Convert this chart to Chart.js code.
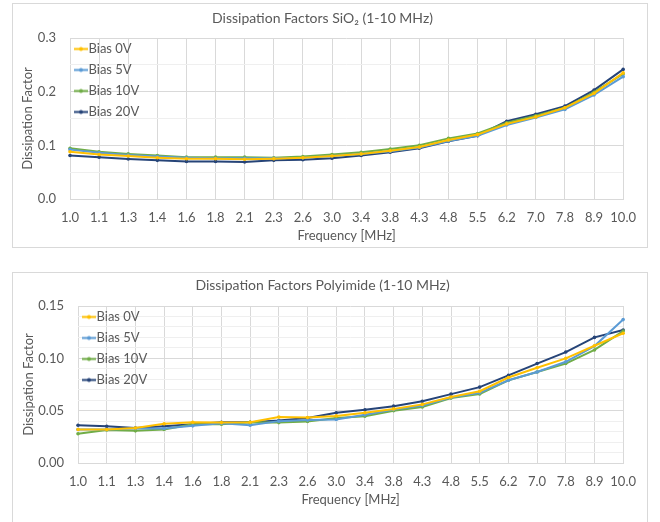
<!DOCTYPE html>
<html>
<head>
<meta charset="utf-8">
<script src="https://cdn.jsdelivr.net/npm/chart.js@4"></script>
<style>
  body { margin: 0; background: #fff; width: 660px; height: 522px; overflow: hidden; position: relative; }
  .box { position: absolute; left: 12px; width: 634px; border: 1px solid #d9d9d9; background: #fff; }
  .box canvas { display: block; }
</style>
</head>
<body>
<div class="box" style="top:3px;height:243px;"><div style="width:634px;height:243px;"><canvas id="sio2Chart"></canvas></div></div>
<div class="box" style="top:272px;height:260px;"><div style="width:634px;height:238px;"><canvas id="polyimideChart"></canvas></div></div>
<script>
// 周波数 (MHz)
const frequencies = ['1.0','1.1','1.3','1.4','1.6','1.8','2.1','2.3','2.6','3.0','3.4','3.8','4.3','4.8','5.5','6.2','7.0','7.8','8.9','10.0'];
const seriesNames = ['Bias 0V', 'Bias 5V', 'Bias 10V', 'Bias 20V'];

// SiO2
const sio2Bias0V  = [0.088,0.083,0.080,0.077,0.075,0.075,0.074,0.075,0.077,0.080,0.084,0.090,0.097,0.110,0.120,0.140,0.153,0.170,0.197,0.235];
const sio2Bias5V  = [0.092,0.086,0.082,0.079,0.077,0.076,0.076,0.076,0.077,0.080,0.084,0.089,0.096,0.108,0.118,0.138,0.152,0.167,0.194,0.228];
const sio2Bias10V = [0.0945,0.088,0.084,0.081,0.078,0.078,0.078,0.077,0.079,0.083,0.087,0.093,0.100,0.113,0.122,0.142,0.155,0.170,0.199,0.233];
const sio2Bias20V = [0.081,0.078,0.0745,0.072,0.070,0.070,0.069,0.072,0.073,0.076,0.081,0.087,0.0945,0.1075,0.118,0.145,0.158,0.173,0.203,0.2415];

// Polyimide
const polyBias0V  = [0.032,0.032,0.0335,0.0374,0.039,0.0386,0.039,0.044,0.0434,0.045,0.048,0.0517,0.056,0.063,0.0686,0.0817,0.091,0.100,0.112,0.124];
const polyBias5V  = [0.032,0.032,0.033,0.033,0.0355,0.038,0.036,0.040,0.041,0.0415,0.046,0.051,0.055,0.0626,0.067,0.079,0.087,0.0967,0.1117,0.137];
const polyBias10V = [0.028,0.0316,0.0307,0.032,0.037,0.037,0.039,0.0386,0.0396,0.043,0.0447,0.050,0.0536,0.062,0.066,0.079,0.087,0.095,0.108,0.126];
const polyBias20V = [0.036,0.035,0.0335,0.035,0.037,0.039,0.039,0.0405,0.043,0.048,0.0508,0.0543,0.059,0.0658,0.0725,0.0837,0.095,0.106,0.120,0.127];

const seriesColors = ['#FFC000', '#5B9BD5', '#70AD47', '#264478'];
const textColor = '#595959';
const fontFamily = 'Lato, "Open Sans", sans-serif';

Chart.defaults.font.family = fontFamily;
Chart.defaults.color = textColor;

// 凡例アイコン (線 + マーカー)
function legendIcon(color) {
    const c = document.createElement('canvas');
    c.width = 14;
    c.height = 7;
    const g = c.getContext('2d');
    g.strokeStyle = color;
    g.lineWidth = 2;
    g.beginPath();
    g.moveTo(0, 3.5);
    g.lineTo(14, 3.5);
    g.stroke();
    g.fillStyle = color;
    g.beginPath();
    g.arc(7, 3.5, 2, 0, Math.PI * 2);
    g.fill();
    return c;
}

// 凡例をプロット領域の左上に置く
const legendInside = {
    id: 'legendInside',
    afterLayout: function (chart) {
        const lg = chart.legend;
        const area = chart.chartArea;
        lg.left = area.left + 2;
        lg.right = lg.left + lg.width;
        lg.top = area.top - 3.5;
        lg.bottom = lg.top + lg.height;
    }
};

function makeDatasets(seriesValues) {
    return seriesValues.map(function (values, i) {
        return {
            label: seriesNames[i],
            data: values,
            borderColor: seriesColors[i],
            backgroundColor: seriesColors[i],
            borderWidth: 2,
            pointRadius: 1.8,
            pointHoverRadius: 2,
            pointBorderWidth: 0,
            tension: 0
        };
    });
}

function makeOptions(opt) {
    return {
        responsive: true,
        maintainAspectRatio: false,
        animation: false,
        layout: { padding: { left: 0, right: 15, top: 0, bottom: 0 } },
        scales: {
            x: {
                offset: false,
                grid: { color: '#d9d9d9', drawTicks: false },
                border: { color: '#d9d9d9' },
                ticks: { padding: 11, maxRotation: 0, autoSkip: false, font: { size: 13 } },
                title: { display: true, text: 'Frequency [MHz]', font: { size: 13 }, padding: { top: 0, bottom: 3 } },
                afterFit: function (scale) { scale.height = 48; }
            },
            y: {
                min: 0,
                max: opt.max,
                grid: {
                    drawTicks: false,
                    color: function (ctx) {
                        return opt.isMajor(ctx.tick.value) ? '#d9d9d9' : '#efefef';
                    }
                },
                border: { display: false },
                ticks: {
                    stepSize: opt.step,
                    autoSkip: false,
                    padding: 14,
                    font: { size: 13 },
                    callback: function (value) {
                        return opt.isMajor(value) ? value.toFixed(opt.digits) : '';
                    }
                },
                title: { display: true, text: 'Dissipation Factor', font: { size: 13 }, padding: { top: opt.yTitlePad, bottom: 0 } },
                afterFit: function (scale) { scale.width = opt.yWidth; }
            }
        },
        plugins: {
            title: {
                display: true,
                text: opt.title,
                color: textColor,
                font: { size: 14, weight: 'normal' },
                padding: opt.titlePad
            },
            legend: {
                position: 'chartArea',
                align: 'start',
                labels: {
                    usePointStyle: true,
                    pointStyleWidth: 2,
                    padding: 8,
                    color: textColor,
                    font: { size: 13 },
                    generateLabels: function (chart) {
                        const items = Chart.defaults.plugins.legend.labels.generateLabels(chart);
                        items.forEach(function (item, i) {
                            item.pointStyle = legendIcon(seriesColors[i]);
                        });
                        return items;
                    }
                }
            },
            tooltip: { enabled: false }
        }
    };
}

// SiO2 グラフ
const ctxSio2 = document.getElementById('sio2Chart').getContext('2d');
new Chart(ctxSio2, {
    type: 'line',
    data: {
        labels: frequencies,
        datasets: makeDatasets([sio2Bias0V, sio2Bias5V, sio2Bias10V, sio2Bias20V])
    },
    options: makeOptions({
        title: 'Dissipation Factors SiO\u2082 (1-10 MHz)',
        titlePad: { top: 5.6, bottom: 11.6 },
        max: 0.3,
        step: 0.05,
        digits: 1,
        yWidth: 57,
        yTitlePad: 7,
        isMajor: function (v) { return Math.round(v * 100) % 10 === 0; }
    }),
    plugins: [legendInside]
});

// ポリイミド グラフ
const ctxPoly = document.getElementById('polyimideChart').getContext('2d');
new Chart(ctxPoly, {
    type: 'line',
    data: {
        labels: frequencies,
        datasets: makeDatasets([polyBias0V, polyBias5V, polyBias10V, polyBias20V])
    },
    options: makeOptions({
        title: 'Dissipation Factors Polyimide (1-10 MHz)',
        titlePad: { top: 3.6, bottom: 12.6 },
        max: 0.15,
        step: 0.01,
        digits: 2,
        yWidth: 65,
        yTitlePad: 8,
        isMajor: function (v) { return Math.round(v * 100) % 5 === 0; }
    }),
    plugins: [legendInside]
});
</script>
</body>
</html>
